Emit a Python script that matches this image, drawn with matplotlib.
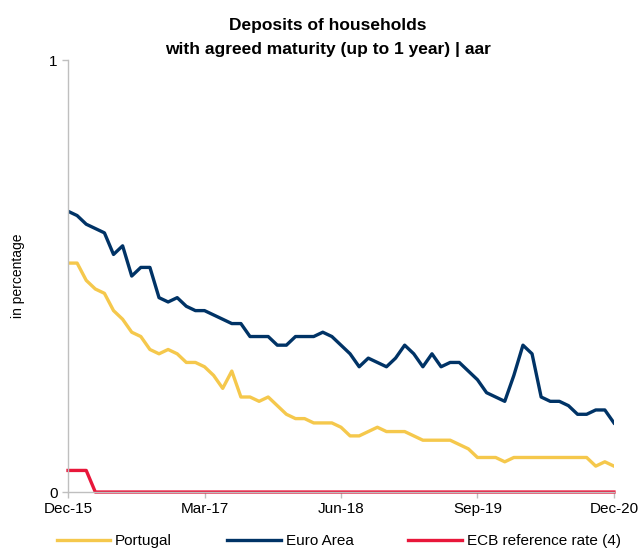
import matplotlib
matplotlib.use("Agg")
import matplotlib.pyplot as plt

plt.rcParams['font.family'] = ['Liberation Sans', 'DejaVu Sans']

# monthly, Dec-15 .. Dec-20
tick_labels = ["Dec-15", "Mar-17", "Jun-18", "Sep-19", "Dec-20"]

portugal = [0.53, 0.53, 0.49, 0.47, 0.46, 0.42, 0.40, 0.37, 0.36, 0.33,
            0.32, 0.33, 0.32, 0.30, 0.30, 0.29, 0.27, 0.24, 0.28, 0.22,
            0.22, 0.21, 0.22, 0.20, 0.18, 0.17, 0.17, 0.16, 0.16, 0.16,
            0.15, 0.13, 0.13, 0.14, 0.15, 0.14, 0.14, 0.14, 0.13, 0.12,
            0.12, 0.12, 0.12, 0.11, 0.10, 0.08, 0.08, 0.08, 0.07, 0.08,
            0.08, 0.08, 0.08, 0.08, 0.08, 0.08, 0.08, 0.08, 0.06, 0.07,
            0.06]

euro_area = [0.65, 0.64, 0.62, 0.61, 0.60, 0.55, 0.57, 0.50, 0.52, 0.52,
             0.45, 0.44, 0.45, 0.43, 0.42, 0.42, 0.41, 0.40, 0.39, 0.39,
             0.36, 0.36, 0.36, 0.34, 0.34, 0.36, 0.36, 0.36, 0.37, 0.36,
             0.34, 0.32, 0.29, 0.31, 0.30, 0.29, 0.31, 0.34, 0.32, 0.29,
             0.32, 0.29, 0.30, 0.30, 0.28, 0.26, 0.23, 0.22, 0.21, 0.27,
             0.34, 0.32, 0.22, 0.21, 0.21, 0.20, 0.18, 0.18, 0.19, 0.19,
             0.16]

ecb_rate = [0.05, 0.05, 0.05] + [0.0] * 58

months = list(range(len(portugal)))

fig = plt.figure(figsize=(6.43, 5.51), dpi=100)
ax = fig.add_axes([0.1058, 0.107, 0.849, 0.784])

ax.plot(months, portugal, color="#F5C84C", lw=2.4, label="Portugal")
ax.plot(months, euro_area, color="#003366", lw=2.4, label="Euro Area")
ax.plot(months, ecb_rate, color="#E8173A", lw=2.4, label="ECB reference rate (4)", clip_on=False)

ax.set_xlim(0, 60)
ax.set_ylim(0, 1)
ax.set_xticks([0, 15, 30, 45, 60])
ax.set_xticklabels(tick_labels)
ax.set_yticks([0, 1])
ax.set_yticklabels(["0", "1"])

for s in ["top", "right"]:
    ax.spines[s].set_visible(False)
for s in ["left", "bottom"]:
    ax.spines[s].set_color("#BFBFBF")
    ax.spines[s].set_linewidth(1.0)
ax.tick_params(axis="both", colors="#BFBFBF", labelcolor="black", labelsize=11,
               length=4.5, width=1.0, direction="out", pad=3)

ax.set_ylabel("in percentage", fontsize=10)
ax.yaxis.set_label_coords(-0.079, 0.5)

# title, two centred lines
fig.text(0.51, 1 - 30 / 551, "Deposits of households", ha="center", va="baseline",
         fontsize=12.5, fontweight="bold")
fig.text(0.51, 1 - 54 / 551, "with agreed maturity (up to 1 year) | aar", ha="center",
         va="baseline", fontsize=12.5, fontweight="bold")

fig.legend(loc="center", ncol=3, frameon=False, fontsize=11,
           bbox_to_anchor=(0.527, 1 - 541 / 551), handlelength=3.5,
           handletextpad=0.33, columnspacing=3.6, borderaxespad=0, borderpad=0)

fig.savefig("out.png", dpi=100)
